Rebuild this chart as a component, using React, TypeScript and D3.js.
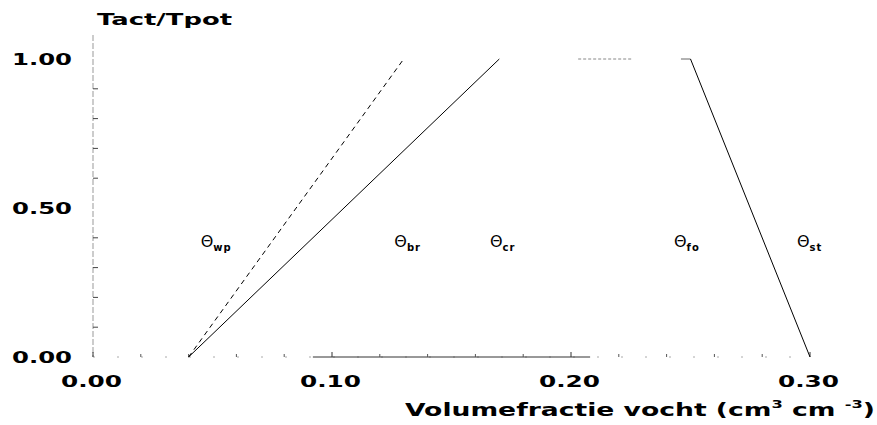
import React from "react";
import * as d3 from "d3";

const width = 877;
const height = 425;
const margin = { top: 59, right: 67, bottom: 68, left: 93 };

// data
const xTicks = [0, 0.1, 0.2, 0.3];
const yTicks = [0, 0.5, 1];
const xMinor = [0.02, 0.04, 0.06, 0.08, 0.12, 0.14, 0.16, 0.18, 0.22, 0.24, 0.26, 0.28];
const yMinor = [0.1, 0.2, 0.3, 0.4, 0.6, 0.7, 0.8, 0.9];

const dashedX = [0.04, 0.13];
const dashedY = [0, 1];
const riseX = [0.04, 0.17];
const riseY = [0, 1];
const plateauX = [0.203, 0.226];
const plateauY = [1, 1];
const plateauEndX = [0.246, 0.25];
const fallX = [0.25, 0.3];
const fallY = [1, 0];

const thetaNames = ["wp", "br", "cr", "fo", "st"];
const thetaValues = [0.048, 0.129, 0.169, 0.246, 0.2975];
const thetaLevel = 0.39;

const font = "'DejaVu Sans', Verdana, sans-serif";

export default function App() {
  const x = d3.scaleLinear().domain([0, 0.3]).range([margin.left, width - margin.right]);
  const y = d3.scaleLinear().domain([0, 1]).range([height - margin.bottom, margin.top]);
  const line = d3.line<number>();
  const path = (xs: number[], ys: number[]) =>
    line(xs.map((v, i) => [x(v), y(ys[i])] as [number, number])) || "";

  const fmt = d3.format(".2f");
  const y0 = y(0);

  return (
    <svg
      width={width}
      height={height}
      style={{ position: "absolute", left: 0, top: 0, background: "#fff" }}
      fontFamily={font}
    >
      {/* y axis */}
      <line x1={x(0)} x2={x(0)} y1={35} y2={y0} stroke="#999" strokeWidth={1} strokeDasharray="6 2" />
      {yMinor.map((v) => (
        <line key={v} x1={x(0)} x2={x(0) + 5} y1={y(v)} y2={y(v)} stroke="#444" strokeWidth={1} />
      ))}
      {yTicks.map((v) => (
        <text
          key={v}
          x={12}
          y={y(v) + 6}
          fontSize={15}
          fontWeight="bold"
          textLength={60}
          lengthAdjust="spacingAndGlyphs"
        >
          {fmt(v)}
        </text>
      ))}
      <text x={97} y={25} fontSize={16} fontWeight="bold" textLength={135} lengthAdjust="spacingAndGlyphs">
        Tact/Tpot
      </text>

      {/* x axis */}
      <line x1={x(0)} x2={x(0.3)} y1={y0} y2={y0} stroke="#aaa" strokeWidth={1} strokeDasharray="2 22" />
      <line x1={x(0.092)} x2={x(0.208)} y1={y0} y2={y0} stroke="#333" strokeWidth={1} />
      {xMinor.map((v) => (
        <line key={v} x1={x(v)} x2={x(v)} y1={y0} y2={y0 - 3} stroke="#555" strokeWidth={1} />
      ))}
      {xTicks.map((v) => (
        <line key={"t" + v} x1={x(v)} x2={x(v)} y1={y0} y2={y0 - 5} stroke="#333" strokeWidth={1} />
      ))}
      {xTicks.map((v) => (
        <text
          key={v}
          x={x(v) - 32}
          y={387}
          fontSize={15}
          fontWeight="bold"
          textLength={61}
          lengthAdjust="spacingAndGlyphs"
        >
          {fmt(v)}
        </text>
      ))}
      <text x={405} y={416} fontSize={18} fontWeight="bold" textLength={470} lengthAdjust="spacingAndGlyphs">
        Volumefractie vocht (cm
        <tspan dy={-8} fontSize={11}>3</tspan>
        <tspan dy={8}> cm </tspan>
        <tspan dy={-8} fontSize={11}>-3</tspan>
        <tspan dy={8}>)</tspan>
      </text>

      {/* reduction curves */}
      <path d={path(dashedX, dashedY)} fill="none" stroke="#000" strokeWidth={1} strokeDasharray="5 4" />
      <path d={path(riseX, riseY)} fill="none" stroke="#000" strokeWidth={1} />
      <path d={path(plateauX, plateauY)} fill="none" stroke="#888" strokeWidth={1} strokeDasharray="3 2" />
      <path d={path(plateauEndX, plateauY)} fill="none" stroke="#666" strokeWidth={1} />
      <path d={path(fallX, fallY)} fill="none" stroke="#000" strokeWidth={1} />

      {/* theta labels */}
      {thetaNames.map((n, i) => (
        <text key={n} x={x(thetaValues[i]) - 7} y={y(thetaLevel) + 6} fontSize={16}>
          Θ
          <tspan dy={4} fontSize={10} fontWeight="bold" letterSpacing={1}>
            {n}
          </tspan>
        </text>
      ))}
    </svg>
  );
}
